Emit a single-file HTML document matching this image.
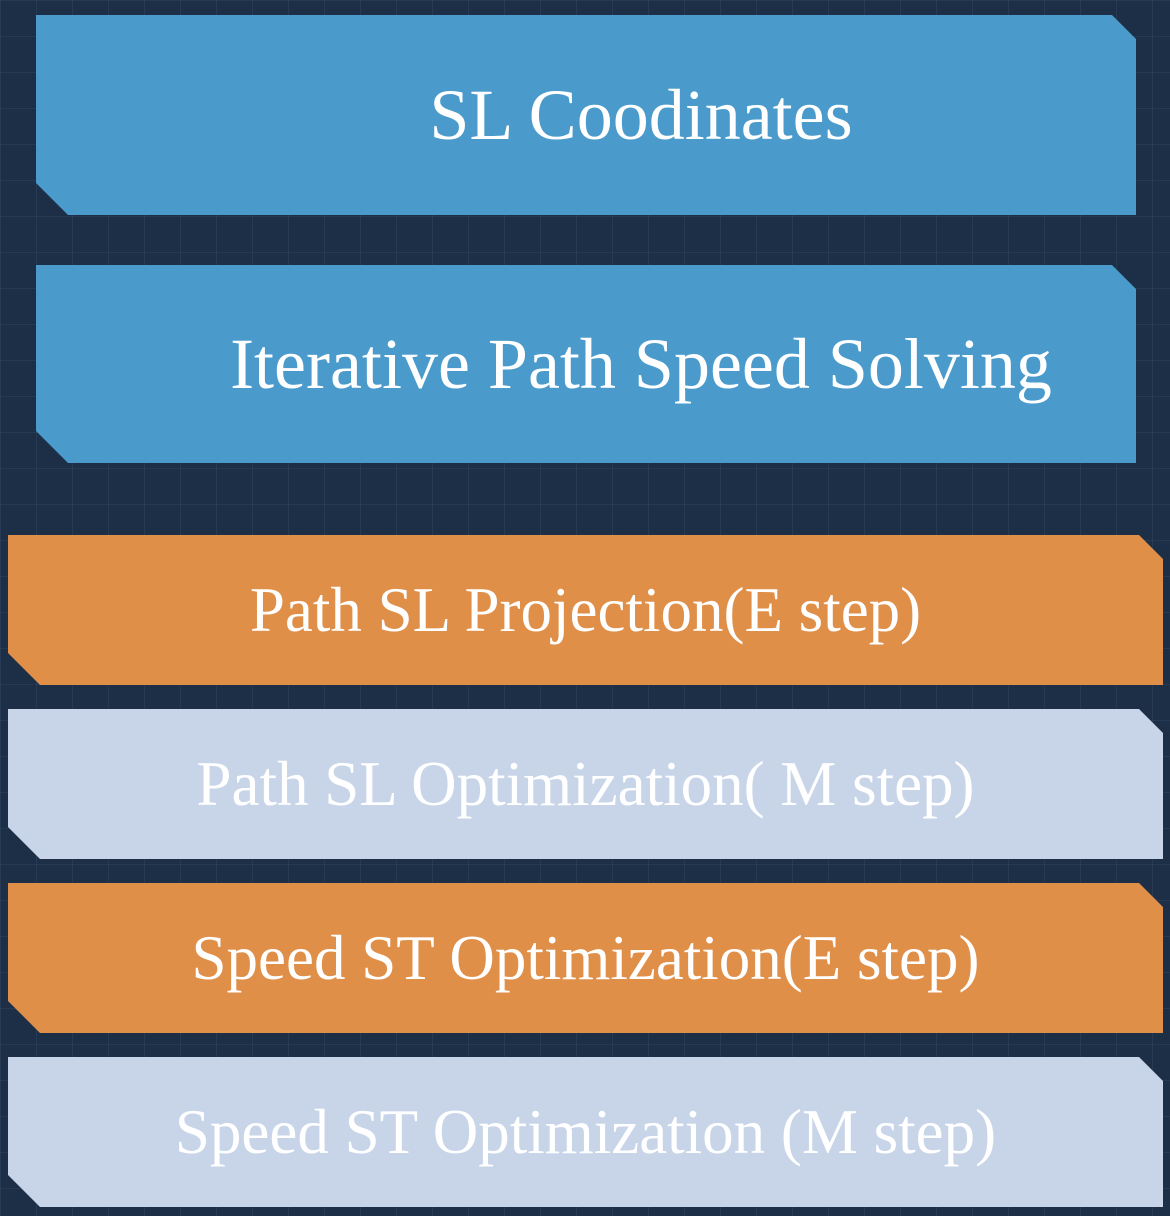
<!DOCTYPE html>
<html><head><style>
html,body{margin:0;padding:0}
body{width:1170px;height:1216px;background:#1c2f47;position:relative;overflow:hidden;
background-image:linear-gradient(rgba(80,110,140,.18) 1px,transparent 1px),linear-gradient(90deg,rgba(80,110,140,.18) 1px,transparent 1px);background-size:36px 36px}
.b{position:absolute;display:flex;align-items:center;justify-content:center;color:#fff;
font-family:"Liberation Serif",serif;
clip-path:polygon(0 0,calc(100% - 24px) 0,100% 24px,100% 100%,32px 100%,0 calc(100% - 32px))}
.blue{background:#4a9bcc;font-size:72px}
.or{background:#e08f49;font-size:63px}
.lt{background:#c8d5e9;font-size:63px}
</style></head><body>
<div class="b blue" style="left:36px;top:15px;width:1100px;height:200px"><span style="margin-left:110px">SL Coodinates</span></div>
<div class="b blue" style="left:36px;top:265px;width:1100px;height:198px"><span style="margin-left:110px">Iterative Path Speed Solving</span></div>
<div class="b or" style="left:8px;top:535px;width:1155px;height:150px"><span>Path SL Projection(E step)</span></div>
<div class="b lt" style="left:8px;top:709px;width:1155px;height:150px"><span>Path SL Optimization( M step)</span></div>
<div class="b or" style="left:8px;top:883px;width:1155px;height:150px"><span>Speed ST Optimization(E step)</span></div>
<div class="b lt" style="left:8px;top:1057px;width:1155px;height:150px"><span>Speed ST Optimization (M step)</span></div>
</body></html>
